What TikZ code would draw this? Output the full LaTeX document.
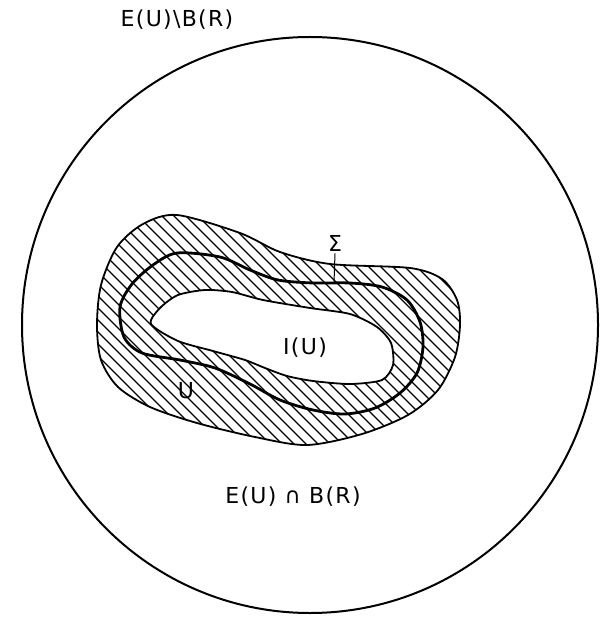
\documentclass[tikz,border=0pt]{standalone}
\usepackage{fontspec}
\newfontfamily\plotfont[LetterSpace=6]{DejaVu Sans}
\usetikzlibrary{arrows.meta}

\begin{document}
\begin{tikzpicture}[x=0.5pt, y=-0.5pt,
  rim/.style={line width=1pt},
  bdry/.style={line width=0.9pt},
  sig/.style={line width=1.4pt},
  hatch/.style={line width=0.55pt},
  lbl/.style={font=\plotfont\fontsize{11}{13}\selectfont, inner sep=1pt},
  tick/.style={line width=0.5pt}
]
  \useasboundingbox (0,0) rectangle (610,620);

  % the ball B(R)
  \draw[rim] (310,325) circle[radius=288];

  % hatched collar U, clipped to the outer boundary
  \begin{scope}
    \clip plot[smooth cycle] coordinates {(177,215) (240,233) (280,252) (330,264) (410,268)
      (442,279) (457,300) (460,325) (455,357) (438,390) (408,415) (362,434) (307,445)
      (255,437) (197,423) (150,407) (118,387) (101,360) (97,325) (101,285) (117,247) (143,224)};
    \foreach \i in {-190,-178,...,480}
      \draw[hatch] (\i,200) -- ++(260,260);
  \end{scope}
  \draw[bdry] plot[smooth cycle] coordinates {(177,215) (240,233) (280,252) (330,264) (410,268)
      (442,279) (457,300) (460,325) (455,357) (438,390) (408,415) (362,434) (307,445)
      (255,437) (197,423) (150,407) (118,387) (101,360) (97,325) (101,285) (117,247) (143,224)};

  % inner region I(U)
  \filldraw[bdry, fill=white] plot[smooth cycle, tension=0.45] coordinates {(151,324) (160,308)
      (178,295) (205,290) (232,292) (263,300) (310,308) (350,314) (377,327) (391,343)
      (393,365) (382,380) (350,384) (313,381) (287,376) (265,368) (245,360) (213,351) (178,341)};

  % surface Sigma
  \draw[sig] plot[smooth cycle] coordinates {(177,253) (220,257) (250,270) (278,280)
      (313,283) (350,283) (382,287) (407,300) (420,322) (423,347) (417,373) (400,393)
      (375,408) (345,414) (313,410) (280,400) (250,384) (215,368) (180,360) (142,353)
      (124,337) (120,307) (132,284) (153,265)};

  \coordinate (sigfoot) at (334,283);

  \node[lbl] (outside) at (177,20) {E(U)\textbackslash B(R)};
  \node[lbl] (annulus) at (293,497) {E(U) ∩ B(R)};
  \node[lbl] (interior) at (305,348) {I(U)};
  \node[lbl] (collar) at (186,391) {U};
  \node[lbl] (sigma) at (335,243) {Σ};

  \draw[tick] (sigma.south) -- (sigfoot);
\end{tikzpicture}
\end{document}
